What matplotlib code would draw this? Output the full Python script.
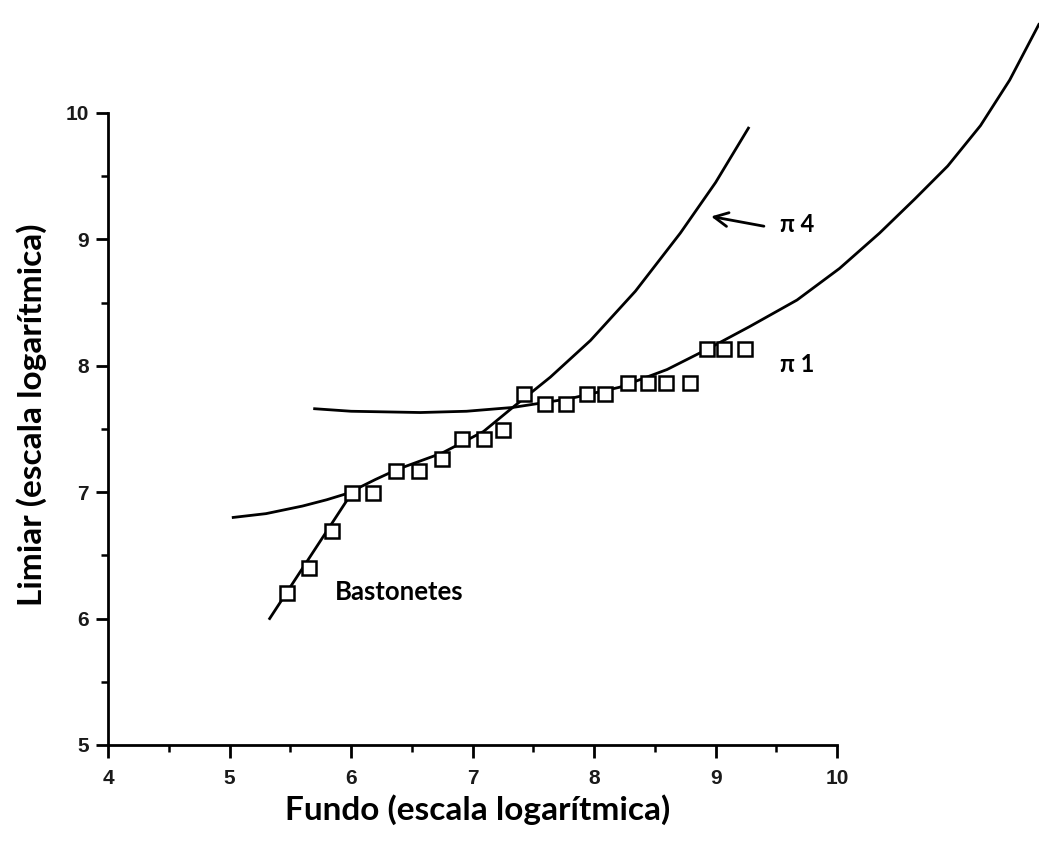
import matplotlib.pyplot as plt
from matplotlib.ticker import MultipleLocator

# threshold measurements (log units)
pts_x = [5.47, 5.65, 5.84, 6.01, 6.18, 6.37, 6.56, 6.75, 6.91, 7.09, 7.25, 7.42,
         7.60, 7.77, 7.94, 8.09, 8.28, 8.44, 8.59, 8.79, 8.93, 9.07, 9.24]
pts_y = [6.20, 6.40, 6.69, 6.99, 6.99, 7.17, 7.17, 7.26, 7.42, 7.42, 7.49, 7.78,
         7.70, 7.70, 7.78, 7.78, 7.86, 7.86, 7.86, 7.86, 8.13, 8.13, 8.13]

# rod branch
rod_x = [5.33, 5.67, 6.01]
rod_y = [6.00, 6.50, 7.00]

# pi 4 mechanism
pi4_x = [5.03, 5.30, 5.60, 5.80, 5.97, 6.20, 6.38, 6.75, 7.09, 7.33, 7.64, 7.97,
         8.34, 8.71, 9.00, 9.27]
pi4_y = [6.80, 6.83, 6.89, 6.94, 6.99, 7.10, 7.18, 7.31, 7.48, 7.67, 7.91, 8.20,
         8.59, 9.05, 9.45, 9.88]

# pi 1 mechanism
pi1_x = [5.70, 6.00, 6.57, 6.95, 7.33, 7.80, 8.21, 8.60, 8.93, 9.28, 9.67, 10.02,
         10.35, 10.64, 10.91, 11.18, 11.42, 11.66]
pi1_y = [7.66, 7.64, 7.63, 7.64, 7.67, 7.74, 7.83, 7.97, 8.13, 8.31, 8.52, 8.77,
         9.05, 9.32, 9.58, 9.90, 10.26, 10.70]

fig = plt.figure(figsize=(10.39, 8.41), dpi=100)
ax = fig.add_axes([0.104, 0.1142, 0.7017, 0.7515])

ax.plot(rod_x, rod_y, color='black', lw=2, clip_on=False, solid_joinstyle='round')
ax.plot(pi4_x, pi4_y, color='black', lw=2, clip_on=False, solid_joinstyle='round')
ax.plot(pi1_x, pi1_y, color='black', lw=2, clip_on=False, solid_joinstyle='round')
ax.plot(pts_x, pts_y, ls='none', marker='s', ms=9.5, mfc='white', mec='black', mew=1.8,
        clip_on=False, zorder=3)

ax.set_xlim(4, 10)
ax.set_ylim(5, 10)
ax.spines['top'].set_visible(False)
ax.spines['right'].set_visible(False)
ax.spines['left'].set_linewidth(2)
ax.spines['bottom'].set_linewidth(2)
ax.xaxis.set_major_locator(MultipleLocator(1))
ax.xaxis.set_minor_locator(MultipleLocator(0.5))
ax.yaxis.set_major_locator(MultipleLocator(1))
ax.yaxis.set_minor_locator(MultipleLocator(0.5))
ax.tick_params(which='major', length=9, width=2, labelsize=15, pad=5)
ax.tick_params(axis='x', which='major', pad=8)
ax.tick_params(which='minor', length=5, width=1.8)
for lab in ax.get_xticklabels() + ax.get_yticklabels():
    lab.set_family('Liberation Sans')
    lab.set_fontweight('bold')
    lab.set_color('#1a1a1a')

fig.text(478 / 1039, 1 - 810 / 841, 'Fundo (escala logarítmica)', fontsize=24,
         fontweight='bold', family='Lato', ha='center', va='center')
fig.text(32 / 1039, 1 - 415 / 841, 'Limiar (escala logarítmica)', fontsize=24,
         fontweight='bold', family='Lato', ha='center', va='center', rotation=90)

ax.annotate('', xy=(8.94, 9.185), xytext=(9.42, 9.10),
            arrowprops=dict(arrowstyle='->', lw=2, color='black',
                            mutation_scale=25), annotation_clip=False)
ax.text(9.53, 9.12, 'π 4', fontsize=17, fontweight='bold', va='center', family='Lato')
ax.text(9.53, 8.01, 'π 1', fontsize=17, fontweight='bold', va='center', family='Lato')
ax.text(5.87, 6.21, 'Bastonetes', fontsize=18.5, va='center', family='Lato',
        fontweight='bold')

plt.savefig('out.png', dpi=100)
